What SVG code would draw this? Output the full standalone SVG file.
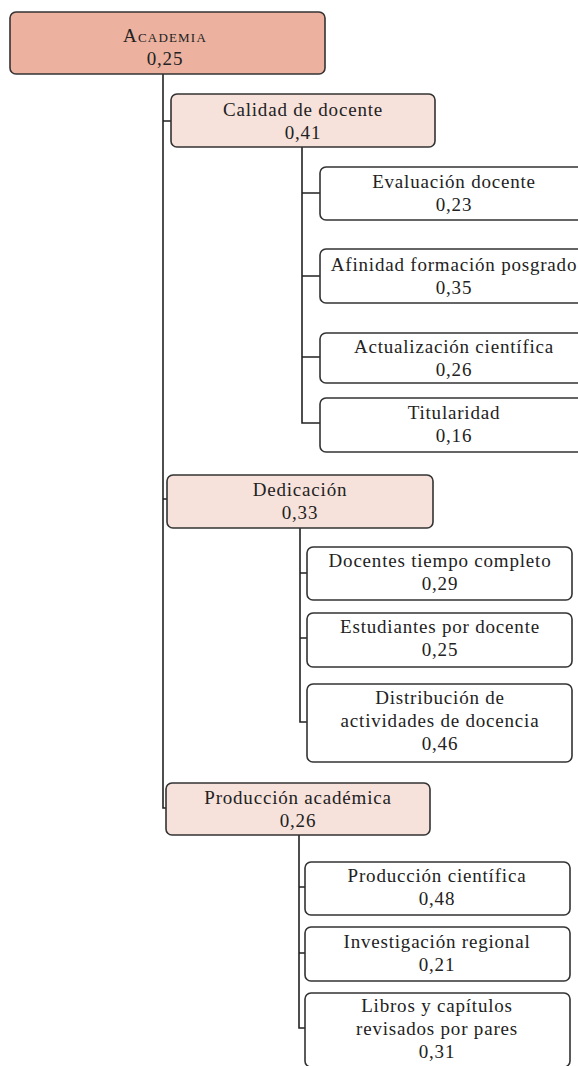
<svg xmlns="http://www.w3.org/2000/svg" width="578" height="1066" viewBox="0 0 578 1066">
<style>
text{font-family:"Liberation Serif","DejaVu Serif",serif;font-size:19px;fill:#222;text-anchor:middle;letter-spacing:0.8px}
.box{stroke:#333;stroke-width:1.6}
.root{fill:#ecb29f}
.mid{fill:#f6e1db}
.leaf{fill:#ffffff}
#connectors path{fill:none;stroke:#222;stroke-width:1.6}
</style>
<rect width="578" height="1066" fill="#fff"/>
<g id="connectors">
<path d="M163 74 V808 H166 M163 121 H171 M163 499 H167"/>
<path d="M302 147 V423 H320 M302 193 H320 M302 276 H320 M302 357 H320"/>
<path d="M300 528 V722 H307 M300 573 H307 M300 638 H307"/>
<path d="M299 835 V1028 H305 M299 887 H305 M299 953 H305"/>
</g>
<g id="n-academia">
<rect class="box root" x="10" y="12" width="315" height="62" rx="6"/>
<text x="165" y="42" style="font-variant:small-caps;letter-spacing:1.2px">Academia</text>
<text x="165" y="65">0,25</text>
</g>
<g id="n-calidad">
<rect class="box mid" x="171" y="94" width="264" height="53" rx="6"/>
<text x="303" y="116">Calidad de docente</text>
<text x="303" y="139">0,41</text>
</g>
<g id="n-evaluacion">
<rect class="box leaf" x="320" y="167" width="268" height="53" rx="6"/>
<text x="454" y="188">Evaluación docente</text>
<text x="454" y="211">0,23</text>
</g>
<g id="n-afinidad">
<rect class="box leaf" x="320" y="249" width="268" height="54" rx="6"/>
<text x="454" y="271">Afinidad formación posgrado</text>
<text x="454" y="294">0,35</text>
</g>
<g id="n-actualizacion">
<rect class="box leaf" x="320" y="333" width="268" height="50" rx="6"/>
<text x="454" y="353">Actualización científica</text>
<text x="454" y="376">0,26</text>
</g>
<g id="n-titularidad">
<rect class="box leaf" x="320" y="398" width="268" height="54" rx="6"/>
<text x="454" y="419">Titularidad</text>
<text x="454" y="442">0,16</text>
</g>
<g id="n-dedicacion">
<rect class="box mid" x="167" y="475" width="266" height="53" rx="6"/>
<text x="300" y="496">Dedicación</text>
<text x="300" y="519">0,33</text>
</g>
<g id="n-docentes">
<rect class="box leaf" x="307" y="547" width="265" height="53" rx="6"/>
<text x="440" y="567">Docentes tiempo completo</text>
<text x="440" y="590">0,29</text>
</g>
<g id="n-estudiantes">
<rect class="box leaf" x="307" y="613" width="265" height="54" rx="6"/>
<text x="440" y="633">Estudiantes por docente</text>
<text x="440" y="656">0,25</text>
</g>
<g id="n-distribucion">
<rect class="box leaf" x="307" y="684" width="265" height="78" rx="6"/>
<text x="440" y="704">Distribución de</text>
<text x="440" y="727">actividades de docencia</text>
<text x="440" y="750">0,46</text>
</g>
<g id="n-produccion">
<rect class="box mid" x="166" y="783" width="264" height="52" rx="6"/>
<text x="298" y="804">Producción académica</text>
<text x="298" y="827">0,26</text>
</g>
<g id="n-cientifica">
<rect class="box leaf" x="305" y="862" width="265" height="53" rx="6"/>
<text x="437" y="882">Producción científica</text>
<text x="437" y="905">0,48</text>
</g>
<g id="n-investigacion">
<rect class="box leaf" x="305" y="927" width="265" height="54" rx="6"/>
<text x="437" y="948">Investigación regional</text>
<text x="437" y="971">0,21</text>
</g>
<g id="n-libros">
<rect class="box leaf" x="305" y="993" width="265" height="74" rx="6"/>
<text x="437" y="1012">Libros y capítulos</text>
<text x="437" y="1035">revisados por pares</text>
<text x="437" y="1058">0,31</text>
</g>
</svg>
